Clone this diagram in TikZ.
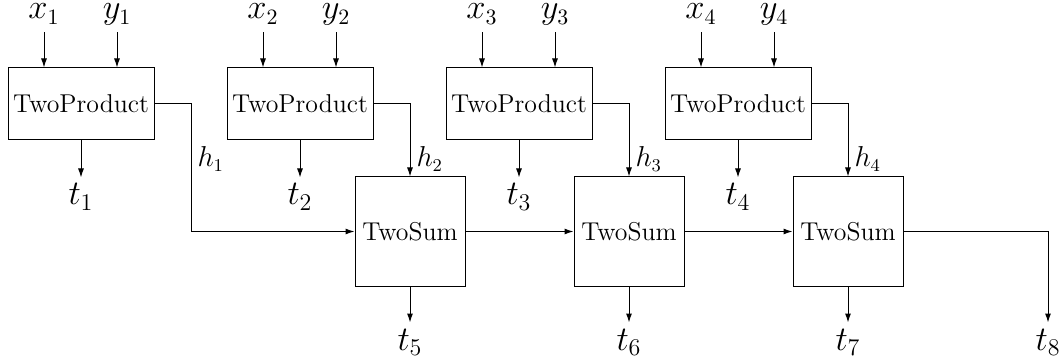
\documentclass[tikz,border=0pt]{standalone}
\usetikzlibrary{arrows.meta}
\begin{document}
\begin{tikzpicture}[x=0.5pt,y=-0.5pt,line width=0.5pt,
  boxfont/.style={font=\fontsize{12.9}{15}\selectfont},
  prodbox/.style={draw, minimum width=73pt, minimum height=36pt, inner sep=0pt, boxfont},
  sumbox/.style={draw, minimum width=55pt, minimum height=54.5pt, inner sep=0pt, boxfont},
  inlabel/.style={anchor=base, font=\fontsize{16}{19}\selectfont, inner sep=0pt, text depth=6.5pt},
  outlabel/.style={anchor=base, font=\fontsize{16.5}{19}\selectfont, inner sep=0pt, text height=13.5pt},
  hlabel/.style={anchor=base west, font=\fontsize{13.5}{15}\selectfont, inner sep=0pt},
  arr/.style={-{Latex[length=4.5pt,width=3pt]}}]
\useasboundingbox (0,0) rectangle (1064,363);

% TwoProduct boxes
\foreach \k in {1,2,3,4}{
  \pgfmathsetmacro{\cx}{81+219*(\k-1)}
  \node[prodbox] (p\k) at (\cx,104) {TwoProduct};
  \pgfmathsetmacro{\xx}{44+219*(\k-1)}
  \pgfmathsetmacro{\yx}{117+219*(\k-1)}
  \node[inlabel] (x\k) at (\xx,19) {$x_{\k}$};
  \node[inlabel] (y\k) at (\yx,19) {$y_{\k}$};
  \draw[arr] (x\k.south) -- (x\k.south |- p\k.north);
  \draw[arr] (y\k.south) -- (y\k.south |- p\k.north);
  \node[outlabel] (t\k) at (\cx,205) {$t_{\k}$};
  \draw[arr] (p\k.south) -- (p\k.south |- t\k.north);
}

% TwoSum boxes
\foreach \k/\n in {1/5,2/6,3/7}{
  \pgfmathsetmacro{\sx}{410+219*(\k-1)}
  \node[sumbox] (s\k) at (\sx,231.5) {TwoSum};
  \node[outlabel] (t\n) at (\sx,350) {$t_{\n}$};
  \draw[arr] (s\k.south) -- (s\k.south |- t\n.north);
}

% h connectors
\coordinate (c1) at (191,104);
\draw[arr] (p1.east) -- (c1) |- (s1.west);
\node[hlabel] (h1) at (197,167) {$h_1$};
\draw[arr] (p2.east) -| (s1.north);
\node[hlabel] (h2) at (416,167) {$h_2$};
\draw[arr] (p3.east) -| (s2.north);
\node[hlabel] (h3) at (635,167) {$h_3$};
\draw[arr] (p4.east) -| (s3.north);
\node[hlabel] (h4) at (854,167) {$h_4$};

% sum chain
\draw[arr] (s1.east) -- (s2.west);
\draw[arr] (s2.east) -- (s3.west);
\node[outlabel] (t8) at (1048,350) {$t_8$};
\draw[arr] (s3.east) -| (t8.north);
\end{tikzpicture}
\end{document}
